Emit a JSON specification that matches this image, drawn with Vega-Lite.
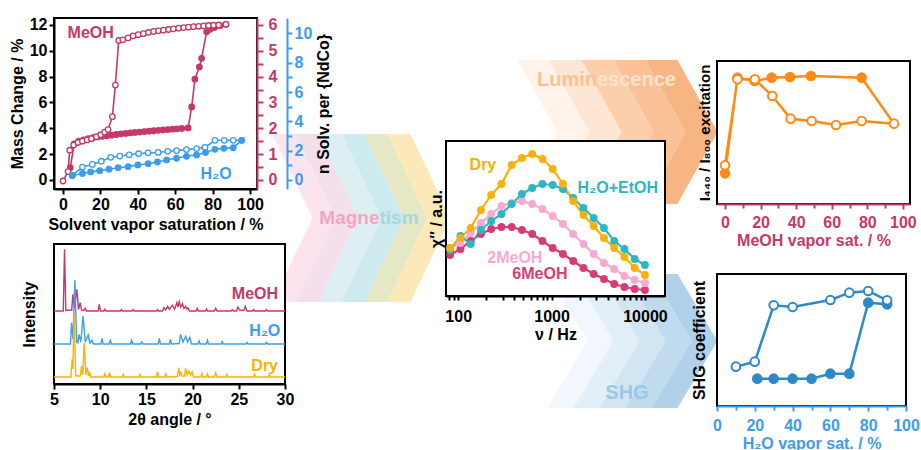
{
"$schema": "https://vega.github.io/schema/vega-lite/v6.json",
"background": "white",
"padding": {"left": 8, "top": 15, "right": 5, "bottom": 5},
"config": {
  "font": "Liberation Sans",
  "view": {"stroke": null},
  "axis": {"labelFont": "Liberation Sans", "titleFont": "Liberation Sans", "labelFontSize": 16, "labelFontWeight": "bold", "titleFontSize": 16, "titleFontWeight": "bold", "labelColor": "black", "titleColor": "black", "domainColor": "black", "domainWidth": 2, "tickColor": "black", "tickWidth": 2, "tickSize": 5, "grid": false, "labelPadding": 2, "titlePadding": 4, "labelFlush": false, "labelOverlap": false},
  "text": {"font": "Liberation Sans", "fontWeight": "bold"}
},
"datasets": {
"sorp": [
{"b":"Md","x":3.9,"m":0.95},{"b":"Md","x":6,"m":2.8},{"b":"Md","x":8.5,"m":3.0},{"b":"Md","x":11,"m":3.1},{"b":"Md","x":13.5,"m":3.2},{"b":"Md","x":16,"m":3.27},{"b":"Md","x":18.5,"m":3.33},{"b":"Md","x":21,"m":3.38},{"b":"Md","x":23.5,"m":3.42},{"b":"Md","x":26,"m":3.47},{"b":"Md","x":28.5,"m":3.52},{"b":"Md","x":31,"m":3.57},{"b":"Md","x":33.5,"m":3.6},{"b":"Md","x":36,"m":3.64},{"b":"Md","x":38.5,"m":3.68},{"b":"Md","x":41,"m":3.71},{"b":"Md","x":43.5,"m":3.75},{"b":"Md","x":46,"m":3.78},{"b":"Md","x":48.5,"m":3.81},{"b":"Md","x":51,"m":3.84},{"b":"Md","x":53.5,"m":3.87},{"b":"Md","x":56,"m":3.9},{"b":"Md","x":58.5,"m":3.93},{"b":"Md","x":61,"m":3.96},{"b":"Md","x":63.5,"m":3.99},{"b":"Md","x":66.9,"m":4.03},{"b":"Md","x":68.8,"m":5.65},{"b":"Md","x":70.5,"m":7.8},{"b":"Md","x":72.9,"m":8.75},{"b":"Md","x":74.1,"m":9.42},{"b":"Md","x":76.8,"m":11.48},{"b":"Md","x":78.6,"m":11.66},{"b":"Md","x":81,"m":11.8},{"b":"Md","x":84,"m":11.95},{"b":"Md","x":87.1,"m":12.05},
{"b":"Ma","x":0,"m":-0.08},{"b":"Ma","x":2.7,"m":0.65},{"b":"Ma","x":3.6,"m":2.3},{"b":"Ma","x":5.7,"m":2.7},{"b":"Ma","x":8,"m":2.9},{"b":"Ma","x":10.4,"m":3.0},{"b":"Ma","x":12.9,"m":3.1},{"b":"Ma","x":15.2,"m":3.2},{"b":"Ma","x":17.9,"m":3.35},{"b":"Ma","x":20.2,"m":3.5},{"b":"Ma","x":22.3,"m":3.7},{"b":"Ma","x":24.1,"m":3.9},{"b":"Ma","x":26.4,"m":4.9},{"b":"Ma","x":28,"m":7.35},{"b":"Ma","x":29.8,"m":10.8},{"b":"Ma","x":32,"m":10.85},{"b":"Ma","x":34.8,"m":11.0},{"b":"Ma","x":37.5,"m":11.15},{"b":"Ma","x":40.2,"m":11.25},{"b":"Ma","x":43,"m":11.33},{"b":"Ma","x":45.7,"m":11.42},{"b":"Ma","x":48.4,"m":11.5},{"b":"Ma","x":51,"m":11.55},{"b":"Ma","x":53.7,"m":11.6},{"b":"Ma","x":56.4,"m":11.65},{"b":"Ma","x":59,"m":11.7},{"b":"Ma","x":61.8,"m":11.75},{"b":"Ma","x":64.5,"m":11.8},{"b":"Ma","x":67.1,"m":11.83},{"b":"Ma","x":69.8,"m":11.87},{"b":"Ma","x":72.5,"m":11.9},{"b":"Ma","x":75.2,"m":11.93},{"b":"Ma","x":77.8,"m":11.96},{"b":"Ma","x":80.5,"m":11.98},{"b":"Ma","x":83.2,"m":12.0},{"b":"Ma","x":87.1,"m":12.05},
{"b":"Wa","x":5,"m":0.35},{"b":"Wa","x":10.4,"m":1.0},{"b":"Wa","x":15.7,"m":1.2},{"b":"Wa","x":20.5,"m":1.45},{"b":"Wa","x":25.5,"m":1.75},{"b":"Wa","x":30.4,"m":1.85},{"b":"Wa","x":35.4,"m":1.95},{"b":"Wa","x":40.4,"m":2.03},{"b":"Wa","x":45.5,"m":2.1},{"b":"Wa","x":50.9,"m":2.13},{"b":"Wa","x":56,"m":2.22},{"b":"Wa","x":60.7,"m":2.27},{"b":"Wa","x":66,"m":2.35},{"b":"Wa","x":71.4,"m":2.43},{"b":"Wa","x":75.9,"m":2.52},{"b":"Wa","x":81.2,"m":3.07},{"b":"Wa","x":86.2,"m":3.07},{"b":"Wa","x":91,"m":3.07},{"b":"Wa","x":95.5,"m":3.07},
{"b":"Wd","x":5,"m":0.35},{"b":"Wd","x":10.4,"m":0.5},{"b":"Wd","x":14.8,"m":0.62},{"b":"Wd","x":19.6,"m":0.72},{"b":"Wd","x":24.6,"m":0.83},{"b":"Wd","x":29.5,"m":0.95},{"b":"Wd","x":34.8,"m":1.03},{"b":"Wd","x":40,"m":1.16},{"b":"Wd","x":45.5,"m":1.26},{"b":"Wd","x":50.5,"m":1.39},{"b":"Wd","x":55.4,"m":1.55},{"b":"Wd","x":60.7,"m":1.68},{"b":"Wd","x":66,"m":1.83},{"b":"Wd","x":71.4,"m":1.94},{"b":"Wd","x":76.2,"m":2.12},{"b":"Wd","x":81.2,"m":2.37},{"b":"Wd","x":86,"m":2.45},{"b":"Wd","x":91,"m":2.5},{"b":"Wd","x":95.5,"m":3.07}
],
"xrd": [
{"s":"M","x":5,"y":73},{"s":"M","x":6.0,"y":73},{"s":"M","x":6.14,"y":134.7},{"s":"M","x":6.28,"y":73.5},{"s":"M","x":6.92,"y":74},{"s":"M","x":7.04,"y":89.7},{"s":"M","x":7.22,"y":76},{"s":"M","x":7.47,"y":94.7},{"s":"M","x":7.65,"y":74.5},{"s":"M","x":7.83,"y":81.3},{"s":"M","x":7.98,"y":74},{"s":"M","x":8.25,"y":73.5},{"s":"M","x":8.37,"y":75.7},{"s":"M","x":8.5,"y":73},{"s":"M","x":9.78,"y":73},{"s":"M","x":9.9,"y":79.7},{"s":"M","x":10.02,"y":73},{"s":"M","x":10.38,"y":73},{"s":"M","x":10.5,"y":74.7},{"s":"M","x":10.62,"y":73},{"s":"M","x":12.18,"y":73},{"s":"M","x":12.3,"y":74.3},{"s":"M","x":12.42,"y":73},{"s":"M","x":13.43,"y":73},{"s":"M","x":13.55,"y":74.3},{"s":"M","x":13.67,"y":73},{"s":"M","x":16.08,"y":73},{"s":"M","x":16.2,"y":74.3},{"s":"M","x":16.32,"y":73},{"s":"M","x":16.75,"y":73},{"s":"M","x":16.9,"y":76.3},{"s":"M","x":17.08,"y":74},{"s":"M","x":17.3,"y":77.7},{"s":"M","x":17.5,"y":74.5},{"s":"M","x":17.8,"y":79},{"s":"M","x":18.05,"y":75},{"s":"M","x":18.3,"y":81.3},{"s":"M","x":18.42,"y":77},{"s":"M","x":18.55,"y":82.3},{"s":"M","x":18.72,"y":77},{"s":"M","x":18.9,"y":80.3},{"s":"M","x":19.07,"y":75.5},{"s":"M","x":19.25,"y":77.7},{"s":"M","x":19.38,"y":75},{"s":"M","x":19.5,"y":76.3},{"s":"M","x":19.65,"y":73},{"s":"M","x":20.38,"y":73},{"s":"M","x":20.5,"y":75.7},{"s":"M","x":20.62,"y":73},{"s":"M","x":21.38,"y":73},{"s":"M","x":21.5,"y":75},{"s":"M","x":21.62,"y":73},{"s":"M","x":22.35,"y":73},{"s":"M","x":22.5,"y":75.7},{"s":"M","x":22.65,"y":73},{"s":"M","x":24.18,"y":73},{"s":"M","x":24.3,"y":74.3},{"s":"M","x":24.42,"y":73},{"s":"M","x":24.75,"y":73},{"s":"M","x":24.9,"y":77},{"s":"M","x":25.1,"y":74},{"s":"M","x":25.55,"y":73.5},{"s":"M","x":25.7,"y":77.7},{"s":"M","x":25.88,"y":73},{"s":"M","x":26.48,"y":73},{"s":"M","x":26.6,"y":74.3},{"s":"M","x":26.72,"y":73},{"s":"M","x":27.88,"y":73},{"s":"M","x":28,"y":74.3},{"s":"M","x":28.12,"y":73},{"s":"M","x":30,"y":73},
{"s":"W","x":5,"y":40},{"s":"W","x":6.78,"y":40},{"s":"W","x":6.9,"y":61.3},{"s":"W","x":7.05,"y":45},{"s":"W","x":7.26,"y":103.7},{"s":"W","x":7.45,"y":42},{"s":"W","x":7.58,"y":41},{"s":"W","x":7.7,"y":49.7},{"s":"W","x":7.9,"y":42},{"s":"W","x":8.15,"y":68},{"s":"W","x":8.38,"y":42},{"s":"W","x":8.7,"y":49},{"s":"W","x":8.88,"y":41},{"s":"W","x":9.1,"y":43.7},{"s":"W","x":9.25,"y":40},{"s":"W","x":10.08,"y":40},{"s":"W","x":10.2,"y":45.7},{"s":"W","x":10.32,"y":40},{"s":"W","x":10.98,"y":40},{"s":"W","x":11.1,"y":43.7},{"s":"W","x":11.22,"y":40},{"s":"W","x":13.28,"y":40},{"s":"W","x":13.4,"y":43.7},{"s":"W","x":13.52,"y":40},{"s":"W","x":14.38,"y":40},{"s":"W","x":14.5,"y":42},{"s":"W","x":14.62,"y":40},{"s":"W","x":16.28,"y":40},{"s":"W","x":16.4,"y":45.7},{"s":"W","x":16.52,"y":40},{"s":"W","x":17.48,"y":40},{"s":"W","x":17.6,"y":44.7},{"s":"W","x":17.72,"y":40},{"s":"W","x":18.55,"y":40.5},{"s":"W","x":18.7,"y":49.7},{"s":"W","x":18.95,"y":42},{"s":"W","x":19.25,"y":47.7},{"s":"W","x":19.45,"y":42},{"s":"W","x":19.7,"y":46.7},{"s":"W","x":19.88,"y":40},{"s":"W","x":20.58,"y":40},{"s":"W","x":20.7,"y":43},{"s":"W","x":20.82,"y":40},{"s":"W","x":21.48,"y":40},{"s":"W","x":21.6,"y":43.7},{"s":"W","x":21.72,"y":40},{"s":"W","x":23.08,"y":40},{"s":"W","x":23.2,"y":42.3},{"s":"W","x":23.32,"y":40},{"s":"W","x":25.78,"y":40},{"s":"W","x":25.9,"y":41.6},{"s":"W","x":26.02,"y":40},{"s":"W","x":27.88,"y":40},{"s":"W","x":28,"y":41.6},{"s":"W","x":28.12,"y":40},{"s":"W","x":30,"y":40},
{"s":"D","x":5,"y":7},{"s":"D","x":6.83,"y":7},{"s":"D","x":6.95,"y":24.7},{"s":"D","x":7.05,"y":15},{"s":"D","x":7.16,"y":71.3},{"s":"D","x":7.35,"y":8},{"s":"D","x":7.85,"y":8},{"s":"D","x":7.98,"y":18},{"s":"D","x":8.12,"y":9},{"s":"D","x":8.26,"y":41.3},{"s":"D","x":8.45,"y":9},{"s":"D","x":8.6,"y":16.3},{"s":"D","x":8.73,"y":8},{"s":"D","x":8.85,"y":11.3},{"s":"D","x":8.98,"y":7},{"s":"D","x":10.38,"y":7},{"s":"D","x":10.5,"y":10.3},{"s":"D","x":10.62,"y":7},{"s":"D","x":10.88,"y":7},{"s":"D","x":11.0,"y":11.3},{"s":"D","x":11.12,"y":7},{"s":"D","x":12.38,"y":7},{"s":"D","x":12.5,"y":9.7},{"s":"D","x":12.62,"y":7},{"s":"D","x":14.18,"y":7},{"s":"D","x":14.3,"y":9.7},{"s":"D","x":14.42,"y":7},{"s":"D","x":16.08,"y":7},{"s":"D","x":16.2,"y":12.3},{"s":"D","x":16.32,"y":7},{"s":"D","x":16.98,"y":7},{"s":"D","x":17.1,"y":10.3},{"s":"D","x":17.22,"y":7},{"s":"D","x":18.35,"y":7.5},{"s":"D","x":18.5,"y":16.3},{"s":"D","x":18.6,"y":9},{"s":"D","x":18.7,"y":11.3},{"s":"D","x":18.85,"y":8},{"s":"D","x":19.12,"y":8},{"s":"D","x":19.25,"y":15.7},{"s":"D","x":19.42,"y":9},{"s":"D","x":19.6,"y":13},{"s":"D","x":19.77,"y":9},{"s":"D","x":19.95,"y":12.3},{"s":"D","x":20.1,"y":7},{"s":"D","x":20.88,"y":7},{"s":"D","x":21.0,"y":10.3},{"s":"D","x":21.12,"y":7},{"s":"D","x":21.48,"y":7},{"s":"D","x":21.6,"y":10.3},{"s":"D","x":21.72,"y":7},{"s":"D","x":22.35,"y":7},{"s":"D","x":22.5,"y":11.3},{"s":"D","x":22.65,"y":7},{"s":"D","x":23.58,"y":7},{"s":"D","x":23.7,"y":9.7},{"s":"D","x":23.82,"y":7},{"s":"D","x":26.58,"y":7},{"s":"D","x":26.7,"y":9.7},{"s":"D","x":26.82,"y":7},{"s":"D","x":28.18,"y":7},{"s":"D","x":28.3,"y":9.7},{"s":"D","x":28.42,"y":7},{"s":"D","x":30,"y":7}
],
"ac": [
{"s":"6MeOH","f":82,"v":41},{"s":"6MeOH","f":105.6,"v":47},{"s":"6MeOH","f":136,"v":55},{"s":"6MeOH","f":175.2,"v":62},{"s":"6MeOH","f":225.5,"v":67},{"s":"6MeOH","f":290.4,"v":69},{"s":"6MeOH","f":373.9,"v":69},{"s":"6MeOH","f":481.4,"v":66},{"s":"6MeOH","f":619.9,"v":62},{"s":"6MeOH","f":798.2,"v":55},{"s":"6MeOH","f":1027.8,"v":48},{"s":"6MeOH","f":1323,"v":42},{"s":"6MeOH","f":1704,"v":35},{"s":"6MeOH","f":2194,"v":28},{"s":"6MeOH","f":2826,"v":22},{"s":"6MeOH","f":3638,"v":17},{"s":"6MeOH","f":4685,"v":12},{"s":"6MeOH","f":6032,"v":9},{"s":"6MeOH","f":7768,"v":7},{"s":"6MeOH","f":10000,"v":6},
{"s":"2MeOH","f":82,"v":48},{"s":"2MeOH","f":105.6,"v":53},{"s":"2MeOH","f":136,"v":63},{"s":"2MeOH","f":175.2,"v":73},{"s":"2MeOH","f":225.5,"v":82},{"s":"2MeOH","f":290.4,"v":90},{"s":"2MeOH","f":373.9,"v":93},{"s":"2MeOH","f":481.4,"v":95},{"s":"2MeOH","f":619.9,"v":92},{"s":"2MeOH","f":798.2,"v":87},{"s":"2MeOH","f":1027.8,"v":80},{"s":"2MeOH","f":1323,"v":72},{"s":"2MeOH","f":1704,"v":62},{"s":"2MeOH","f":2194,"v":52},{"s":"2MeOH","f":2826,"v":42},{"s":"2MeOH","f":3638,"v":33},{"s":"2MeOH","f":4685,"v":27},{"s":"2MeOH","f":6032,"v":20},{"s":"2MeOH","f":7768,"v":16},{"s":"2MeOH","f":10000,"v":13},
{"s":"H2O+EtOH","f":82,"v":46},{"s":"H2O+EtOH","f":105.6,"v":60},{"s":"H2O+EtOH","f":136,"v":52},{"s":"H2O+EtOH","f":175.2,"v":66},{"s":"H2O+EtOH","f":225.5,"v":75},{"s":"H2O+EtOH","f":290.4,"v":82},{"s":"H2O+EtOH","f":373.9,"v":92},{"s":"H2O+EtOH","f":481.4,"v":102},{"s":"H2O+EtOH","f":619.9,"v":108},{"s":"H2O+EtOH","f":798.2,"v":112},{"s":"H2O+EtOH","f":1027.8,"v":111},{"s":"H2O+EtOH","f":1323,"v":107},{"s":"H2O+EtOH","f":1704,"v":98},{"s":"H2O+EtOH","f":2194,"v":88},{"s":"H2O+EtOH","f":2826,"v":78},{"s":"H2O+EtOH","f":3638,"v":68},{"s":"H2O+EtOH","f":4685,"v":55},{"s":"H2O+EtOH","f":6032,"v":47},{"s":"H2O+EtOH","f":7768,"v":37},{"s":"H2O+EtOH","f":10000,"v":31},
{"s":"Dry","f":82,"v":48},{"s":"Dry","f":105.6,"v":58},{"s":"Dry","f":136,"v":68},{"s":"Dry","f":175.2,"v":86},{"s":"Dry","f":225.5,"v":101},{"s":"Dry","f":290.4,"v":112},{"s":"Dry","f":373.9,"v":131},{"s":"Dry","f":481.4,"v":138},{"s":"Dry","f":619.9,"v":142},{"s":"Dry","f":798.2,"v":137},{"s":"Dry","f":1027.8,"v":127},{"s":"Dry","f":1323,"v":112},{"s":"Dry","f":1704,"v":95},{"s":"Dry","f":2194,"v":81},{"s":"Dry","f":2826,"v":70},{"s":"Dry","f":3638,"v":58},{"s":"Dry","f":4685,"v":48},{"s":"Dry","f":6032,"v":39},{"s":"Dry","f":7768,"v":28},{"s":"Dry","f":10000,"v":21}
],
"lum": [
{"t":"f","i":1,"x":0,"v":30.7},{"t":"f","i":2,"x":7,"v":126.3},{"t":"f","i":3,"x":16.5,"v":123},{"t":"f","i":4,"x":26.2,"v":126.3},{"t":"f","i":5,"x":36.5,"v":127},{"t":"f","i":6,"x":48.3,"v":128},{"t":"f","i":7,"x":76.8,"v":126.3},{"t":"o","i":8,"x":95,"v":80.3},{"t":"o","i":9,"x":76.8,"v":83},{"t":"o","i":10,"x":62.4,"v":79},{"t":"o","i":11,"x":48.7,"v":83},{"t":"o","i":12,"x":36.9,"v":85.3},{"t":"o","i":13,"x":26.6,"v":108},{"t":"o","i":14,"x":16.8,"v":124.7},{"t":"o","i":15,"x":7,"v":124.7},{"t":"o","i":16,"x":0,"v":38.7}
],
"shg": [
{"t":"f","x":21.3,"v":27.3},{"t":"f","x":30,"v":27.3},{"t":"f","x":40,"v":27.3},{"t":"f","x":50,"v":27.3},{"t":"f","x":60,"v":32.3},{"t":"f","x":70,"v":32.3},{"t":"f","x":80,"v":103.3},{"t":"f","x":90,"v":101.7},
{"t":"o","x":10,"v":39.3},{"t":"o","x":20,"v":44.3},{"t":"o","x":30,"v":100.7},{"t":"o","x":40,"v":99},{"t":"o","x":60,"v":106},{"t":"o","x":70,"v":113.3},{"t":"o","x":80,"v":115},{"t":"o","x":90,"v":105.7}
],
"chev": [
{"k":"m1"},{"k":"m2"},{"k":"m3"},{"k":"m4"},{"k":"m5"},{"k":"m6"},
{"k":"l1"},{"k":"l2"},{"k":"l3"},{"k":"l4"},{"k":"l5"},
{"k":"s1"},{"k":"s2"},{"k":"s3"},{"k":"s4"},{"k":"s5"}
]
},
"hconcat": [
 {"hconcat": [
  {"width": 261, "height": 1, "data": {"values": []}, "mark": "point"},
  {"width": 129, "height": 400,
   "layer": [
    {"data": {"name": "chev"},
     "mark": {"type": "point", "filled": true, "size": 4, "opacity": 1, "strokeWidth": 0},
     "encoding": {
      "shape": {"field": "k", "type": "nominal", "legend": null, "scale": {"domain": ["m1","m2","m3","m4","m5","m6","l1","l2","l3","l4","l5","s1","s2","s3","s4","s5"], "range": [
       "M-107,-84L-84,-84L-44,0L-84,84L-107,84L-67,0Z",
       "M-84,-84L-61,-84L-21,0L-61,84L-84,84L-44,0Z",
       "M-61,-84L-38,-84L2,0L-38,84L-61,84L-21,0Z",
       "M-38,-84L-15,-84L25,0L-15,84L-38,84L2,0Z",
       "M-15,-84L8,-84L48,0L8,84L-15,84L25,0Z",
       "M8,-84L31,-84L71,0L31,84L8,84L48,0Z",
       "M138,-158L170,-158L210,-86L170,-14L138,-14L178,-86Z",
       "M170,-158L202,-158L242,-86L202,-14L170,-14L210,-86Z",
       "M202,-158L234,-158L274,-86L234,-14L202,-14L242,-86Z",
       "M234,-158L266,-158L306,-86L266,-14L234,-14L274,-86Z",
       "M266,-158L298,-158L338,-86L298,-14L266,-14L306,-86Z",
       "M168,56L194,56L234,123L194,190L168,190L208,123Z",
       "M194,56L220,56L260,123L220,190L194,190L234,123Z",
       "M220,56L246,56L286,123L246,190L220,190L260,123Z",
       "M246,56L272,56L312,123L272,190L246,190L286,123Z",
       "M272,56L298,56L338,123L298,190L272,190L312,123Z"]}},
      "fill": {"field": "k", "type": "nominal", "legend": null, "scale": {"domain": ["m1","m2","m3","m4","m5","m6","l1","l2","l3","l4","l5","s1","s2","s3","s4","s5"], "range": ["#FCE4EE","#F4E0EA","#DDEFF3","#CDEAEE","#E6E7C4","#FBE9B9","#FFF3EA","#FEE6D4","#FBCFAB","#FAC197","#F8B584","#F1F7FC","#E2EEF8","#D2E5F3","#C1DBEE","#B0D1E9"]}}
     }},
    {"data": {"values": [{"t": "Magne"}]},
     "mark": {"type": "text", "fontSize": 19, "fontWeight": "bold", "color": "#F2A5C3", "align": "right"},
     "encoding": {"text": {"field": "t"}}},
    {"data": {"values": [{"t": "tism"}]},
     "mark": {"type": "text", "fontSize": 19, "fontWeight": "bold", "color": "#A3D9E2", "align": "left"},
     "encoding": {"text": {"field": "t"}}}
   ]
  }
 ], "spacing": 0, "bounds": "flush"},
 {"vconcat": [
  {"width": 203, "height": 171,
   "view": {"stroke": "black", "strokeWidth": 2, "fill": "white"},
   "data": {"name": "sorp"},
   "layer": [
    {"mark": {"type": "line", "strokeWidth": 1.6},
     "encoding": {
      "x": {"field": "x", "type": "quantitative", "scale": {"domain": [-4.8, 103.7], "nice": false, "zero": false}, "axis": {"values": [0,20,40,60,80,100], "title": "Solvent vapor saturation / %"}},
      "y": {"field": "m", "type": "quantitative", "scale": {"domain": [-0.7, 12.54], "nice": false, "zero": false}, "axis": {"values": [0,2,4,6,8,10,12], "title": "Mass Change / %"}},
      "color": {"field": "b", "type": "nominal", "scale": {"domain": ["Md","Ma","Wa","Wd"], "range": ["#C63869","#C63869","#3D9CF0","#3D9CF0"]}, "legend": null}
     }},
    {"mark": {"type": "point", "filled": true, "size": 30, "strokeWidth": 1.3, "opacity": 1},
     "encoding": {
      "x": {"field": "x", "type": "quantitative", "scale": {"domain": [-4.8, 103.7], "nice": false, "zero": false}, "axis": {"values": [0,20,40,60,80,100], "title": "Solvent vapor saturation / %"}},
      "y": {"field": "m", "type": "quantitative", "scale": {"domain": [-0.7, 12.54], "nice": false, "zero": false}, "axis": null},
      "fill": {"field": "b", "type": "nominal", "scale": {"domain": ["Md","Ma","Wa","Wd"], "range": ["#C63869","#C63869","#3D9CF0","#3D9CF0"]}, "legend": null, "condition": {"test": "datum.b=='Ma'||datum.b=='Wa'", "value": "white"}},
      "stroke": {"field": "b", "type": "nominal", "scale": {"domain": ["Md","Ma","Wa","Wd"], "range": ["#C63869","#C63869","#3D9CF0","#3D9CF0"]}, "legend": null}
     }},
    {"mark": {"type": "point", "opacity": 0},
     "encoding": {
      "x": {"field": "x", "type": "quantitative", "scale": {"domain": [-4.8, 103.7], "nice": false, "zero": false}, "axis": {"values": [0,20,40,60,80,100], "title": "Solvent vapor saturation / %"}},
      "y": {"field": "m", "type": "quantitative", "scale": {"domain": [-0.7, 12.54], "nice": false, "zero": false}, "axis": {"orient": "right", "offset": 0, "values": [0,1,2,3,4,5,6,7,8,9,10,11,12], "labelExpr": "datum.value % 2 == 0 ? format(datum.value/2, 'd') : ''", "labelOverlap": false, "title": null, "domainColor": "#C63869", "tickColor": "#C63869", "labelColor": "#C63869", "tickSize": 6, "labelPadding": 5}}
     }},
    {"mark": {"type": "point", "opacity": 0},
     "encoding": {
      "x": {"field": "x", "type": "quantitative", "scale": {"domain": [-4.8, 103.7], "nice": false, "zero": false}, "axis": {"values": [0,20,40,60,80,100], "title": "Solvent vapor saturation / %"}},
      "y": {"field": "m", "type": "quantitative", "scale": {"domain": [-0.7, 12.54], "nice": false, "zero": false}, "axis": {"orient": "right", "offset": 30, "values": [0,1.135,2.27,3.405,4.54,5.675,6.81,7.945,9.08,10.215,11.35], "labelExpr": "round(datum.value/1.135) % 2 == 0 ? format(round(datum.value/1.135), 'd') : ''", "labelOverlap": false, "title": "n Solv. per {NdCo}", "titleAngle": 270, "titleBaseline": "top", "titlePadding": 4, "domainColor": "#3D9CF0", "tickColor": "#3D9CF0", "labelColor": "#3D9CF0"}}
     }},
    {"data": {"values": [{"b":"Ma","x":14.8,"m":11.4,"t":"MeOH"},{"b":"Wa","x":81.8,"m":0.44,"t":"H₂O"}]},
     "mark": {"type": "text", "fontSize": 16, "fontWeight": "bold"},
     "encoding": {
      "x": {"field": "x", "type": "quantitative", "scale": {"domain": [-4.8, 103.7], "nice": false, "zero": false}, "axis": {"values": [0,20,40,60,80,100], "title": "Solvent vapor saturation / %"}},
      "y": {"field": "m", "type": "quantitative", "scale": {"domain": [-0.7, 12.54], "nice": false, "zero": false}, "axis": null},
      "text": {"field": "t"},
      "color": {"field": "b", "type": "nominal", "scale": {"domain": ["Md","Ma","Wa","Wd"], "range": ["#C63869","#C63869","#3D9CF0","#3D9CF0"]}, "legend": null}
     }}
   ],
   "resolve": {"scale": {"y": "independent"}}
  },
  {"width": 231, "height": 140,
   "view": {"stroke": "black", "strokeWidth": 2, "fill": "white"},
   "layer": [
    {"data": {"name": "xrd"},
     "mark": {"type": "line", "strokeWidth": 1.4},
     "encoding": {
      "x": {"field": "x", "type": "quantitative", "scale": {"domain": [5, 30], "nice": false}, "axis": {"values": [5,10,15,20,25,30], "title": "2θ angle / °"}},
      "y": {"field": "y", "type": "quantitative", "scale": {"domain": [0, 140], "nice": false}, "axis": {"title": "Intensity", "ticks": false, "labels": false, "domain": false, "titlePadding": 17}},
      "color": {"field": "s", "type": "nominal", "scale": {"domain": ["M","W","D"], "range": ["#C63869","#3D9CF0","#FFB100"]}, "legend": null}
     }},
    {"data": {"values": [{"s":"M","x":26.75,"y":90,"t":"MeOH"},{"s":"W","x":27.8,"y":53,"t":"H₂O"},{"s":"D","x":27.8,"y":18,"t":"Dry"}]},
     "mark": {"type": "text", "fontSize": 16, "fontWeight": "bold"},
     "encoding": {
      "x": {"field": "x", "type": "quantitative"},
      "y": {"field": "y", "type": "quantitative"},
      "text": {"field": "t"},
      "color": {"field": "s", "type": "nominal", "scale": {"domain": ["M","W","D"], "range": ["#C63869","#3D9CF0","#FFB100"]}, "legend": null}
     }}
   ]
  }
 ], "spacing": 55, "bounds": "flush", "resolve": {"scale": {"color": "independent", "fill": "independent", "stroke": "independent"}}},
 {"width": 392, "height": 1, "data": {"values": []}, "mark": "point"},
 {"vconcat": [
  {"hconcat": [
    {"width": 31, "height": 1, "data": {"values": []}, "mark": "point"},
    {"width": 240, "height": 123,
     "layer": [
      {"data": {"values": [{"t": "Lumin"}]},
       "mark": {"type": "text", "fontSize": 20, "fontWeight": "bold", "color": "#FBC296", "align": "right"},
       "encoding": {"text": {"field": "t"}}},
      {"data": {"values": [{"t": "escence"}]},
       "mark": {"type": "text", "fontSize": 20, "fontWeight": "bold", "color": "#FFE2CC", "align": "left"},
       "encoding": {"text": {"field": "t"}}}
     ]}
  ], "spacing": 0, "bounds": "flush"},
  {"width": 1, "height": 123, "data": {"values": []}, "mark": "point"},
  {"width": 219, "height": 155,
   "view": {"stroke": "black", "strokeWidth": 2, "fill": "white"},
   "layer": [
    {"data": {"name": "ac"},
     "mark": {"type": "line", "strokeWidth": 2.2},
     "encoding": {
      "x": {"field": "f", "type": "quantitative", "scale": {"type": "log", "domain": [74, 16400], "nice": false}, "axis": {"values": [80,90,100,200,300,400,500,600,700,800,900,1000,2000,3000,4000,5000,6000,7000,8000,9000,10000], "labelExpr": "datum.value==100||datum.value==1000||datum.value==10000 ? format(datum.value,'d') : ''", "labelOverlap": false, "title": "ν / Hz", "labelPadding": 8, "titlePadding": 2, "tickSize": 4}},
      "y": {"field": "v", "type": "quantitative", "scale": {"domain": [0, 155], "nice": false}, "axis": {"title": "χ″ / a.u.", "ticks": false, "labels": false, "domain": false, "titlePadding": 2}},
      "color": {"field": "s", "type": "nominal", "scale": {"domain": ["6MeOH","2MeOH","H2O+EtOH","Dry"], "range": ["#D93C75","#F8A9D2","#2DB7C4","#F6B10C"]}, "legend": null}
     }},
    {"data": {"name": "ac"},
     "mark": {"type": "circle", "size": 62, "opacity": 1},
     "encoding": {
      "x": {"field": "f", "type": "quantitative"},
      "y": {"field": "v", "type": "quantitative"},
      "color": {"field": "s", "type": "nominal", "legend": null}
     }},
    {"data": {"values": [{"s":"Dry","f":184,"v":131,"t":"Dry"},{"s":"H2O+EtOH","f":5117,"v":108,"t":"H₂O+EtOH"},{"s":"2MeOH","f":404,"v":38,"t":"2MeOH"},{"s":"6MeOH","f":750,"v":22,"t":"6MeOH"}]},
     "mark": {"type": "text", "fontSize": 16, "fontWeight": "bold"},
     "encoding": {
      "x": {"field": "f", "type": "quantitative"},
      "y": {"field": "v", "type": "quantitative"},
      "text": {"field": "t"},
      "color": {"field": "s", "type": "nominal", "legend": null}
     }}
   ]
  },
  {"hconcat": [
    {"width": 91, "height": 1, "data": {"values": []}, "mark": "point"},
    {"width": 180, "height": 194, "data": {"values": [{"t": "SHG"}]},
     "mark": {"type": "text", "fontSize": 20, "fontWeight": "bold", "color": "#9CC8E8"},
     "encoding": {"text": {"field": "t"}}}
  ], "spacing": 0, "bounds": "flush"}
 ], "spacing": 0, "bounds": "flush", "resolve": {"scale": {"color": "independent"}}},
 {"width": 271, "height": 1, "data": {"values": []}, "mark": "point"},
 {"vconcat": [
  {"width": 10, "height": 43, "data": {"values": []}, "mark": "point"},
  {"width": 193, "height": 143,
   "view": {"stroke": "black", "strokeWidth": 2, "fill": "white"},
   "data": {"name": "lum"},
   "layer": [
    {"mark": {"type": "line", "strokeWidth": 2.5, "color": "#FF8A14"},
     "encoding": {
      "x": {"field": "x", "type": "quantitative", "scale": {"domain": [-4.5, 104], "nice": false, "zero": false}, "axis": {"orient": "bottom", "values": [0,20,40,60,80,100], "title": "MeOH vapor sat. / %", "domainColor": "#C63869", "tickColor": "#C63869", "labelColor": "#C63869", "titleColor": "#C63869", "labelPadding": 5, "titlePadding": 2}},
      "y": {"field": "v", "type": "quantitative", "scale": {"domain": [0, 143], "nice": false}, "axis": {"title": "I₄₄₀ / I₈₀₀ excitation", "ticks": false, "labels": false, "domain": false, "titlePadding": 5, "titleFontSize": 15}},
      "order": {"field": "i"}
     }},
    {"mark": {"type": "point", "filled": true, "size": 75, "strokeWidth": 2, "opacity": 1, "stroke": "#FF8A14"},
     "encoding": {
      "x": {"field": "x", "type": "quantitative", "scale": {"domain": [-4.5, 104], "nice": false, "zero": false}, "axis": null},
      "y": {"field": "v", "type": "quantitative"},
      "fill": {"condition": {"test": "datum.t=='o'", "value": "white"}, "value": "#FF8A14"}
     }},
    {"mark": {"type": "point", "opacity": 0},
     "encoding": {
      "x": {"field": "x", "type": "quantitative", "scale": {"domain": [-4.5, 104], "nice": false, "zero": false}, "axis": {"orient": "bottom", "values": [10,30,50,70,90], "labels": false, "domain": false, "title": null, "tickColor": "#C63869", "tickSize": 4}},
      "y": {"field": "v", "type": "quantitative"}
     }}
   ],
   "resolve": {"scale": {"x": "independent"}}
  },
  {"width": 10, "height": 70, "data": {"values": []}, "mark": "point"},
  {"width": 189, "height": 132,
   "view": {"stroke": "black", "strokeWidth": 2, "fill": "white"},
   "data": {"name": "shg"},
   "layer": [
    {"mark": {"type": "line", "strokeWidth": 2.5, "color": "#2F89C9"},
     "encoding": {
      "x": {"field": "x", "type": "quantitative", "scale": {"domain": [0, 100], "nice": false, "zero": false}, "axis": {"orient": "bottom", "values": [0,20,40,60,80,100], "title": "H₂O vapor sat. / %", "domainColor": "#3D9CF0", "tickColor": "#3D9CF0", "labelColor": "#3D9CF0", "titleColor": "#3D9CF0", "labelPadding": 6, "titlePadding": 2}},
      "y": {"field": "v", "type": "quantitative", "scale": {"domain": [0, 132], "nice": false}, "axis": {"title": "SHG coefficient", "ticks": false, "labels": false, "domain": false, "titlePadding": 10}},
      "detail": {"field": "t"}
     }},
    {"mark": {"type": "point", "filled": true, "size": 75, "strokeWidth": 2, "opacity": 1, "stroke": "#2F89C9"},
     "encoding": {
      "x": {"field": "x", "type": "quantitative", "scale": {"domain": [0, 100], "nice": false, "zero": false}, "axis": null},
      "y": {"field": "v", "type": "quantitative"},
      "fill": {"condition": {"test": "datum.t=='o'", "value": "white"}, "value": "#2F89C9"}
     }},
    {"mark": {"type": "point", "opacity": 0},
     "encoding": {
      "x": {"field": "x", "type": "quantitative", "scale": {"domain": [0, 100], "nice": false, "zero": false}, "axis": {"orient": "bottom", "values": [10,30,50,70,90], "labels": false, "domain": false, "title": null, "tickColor": "#3D9CF0", "tickSize": 4}},
      "y": {"field": "v", "type": "quantitative"}
     }}
   ],
   "resolve": {"scale": {"x": "independent"}}
  }
 ], "spacing": 0, "bounds": "flush"}
],
"spacing": 0,
"bounds": "flush",
"resolve": {"scale": {"color": "independent", "fill": "independent", "stroke": "independent", "shape": "independent"}}
}
